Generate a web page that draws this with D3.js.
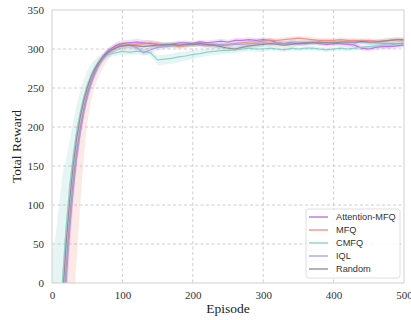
<!DOCTYPE html>
<html><head><meta charset="utf-8">
<script src="https://cdn.jsdelivr.net/npm/d3@7"></script>
<style>body{margin:0;background:#fff}svg{display:block}</style>
</head><body><svg id="c" width="411" height="320"></svg>
<script>
const episodes = [0,5,10,15,20,25,30,35,40,45,50,55,60,65,70,75,80,85,90,95,100,
 110,120,130,140,150,160,170,180,190,200,210,220,230,240,250,260,270,280,290,300,
 310,320,330,340,350,360,370,380,390,400,410,420,430,440,450,460,470,480,490,500];

const attnMean = [-440,-280,-155,-60,15,78,128,168,198,222,242,257,269,279,287,293,298,301,304,306,307,
 308,309,308,307,306,305,306,308,308,307,309,308,309,310,309,311,311,312,311,312,
 311,308,307,308,307,307,308,307,306,307,307,306,305,301,300,302,303,303,304,305];
const attnHi = [60,55,50,45,40,30,22,16,12,10,8,7,6,5,5,4,4,4,4,4,4,
 4,4,4,4,4,3,3,3,3,3,3,3,3,3,3,3,3,3,3,3,3,3,3,3,3,3,3,3,3,3,3,3,3,3,3,3,3,3,3,3];
const attnLo = [60,55,50,45,40,30,22,16,12,10,8,7,6,5,5,4,4,4,4,4,4,
 4,4,4,4,4,3,3,3,3,3,3,3,3,3,3,3,3,3,3,3,3,3,3,3,3,3,3,3,3,3,3,3,3,3,3,3,3,3,3,3];

const mfqMean = [-455,-295,-165,-68,8,72,122,162,194,219,239,255,267,277,285,291,296,299,302,304,305,
 305,306,307,308,306,304,305,303,304,306,307,306,305,304,306,307,308,309,309,310,
 311,311,312,313,314,313,312,311,311,311,312,311,311,310,311,310,310,311,312,311];
const mfqHi = [40,35,30,28,25,20,16,12,10,8,7,6,5,5,4,4,4,4,4,4,4,
 4,4,4,4,4,3,3,3,3,3,3,3,3,3,3,3,3,3,3,3,3,3,3,3,3,3,3,3,3,3,3,3,3,3,3,3,3,3,3,3];
const mfqLo = [300,280,250,220,190,165,162,132,94,59,34,23,17,15,13,11,9,7,6,5,4,
 4,4,4,4,4,3,3,3,3,3,3,3,3,3,3,3,3,3,3,3,3,3,3,3,3,3,3,3,3,3,3,3,3,3,3,3,3,3,3,3];

const cmfqMean = [-330,-200,-90,5,70,122,162,194,218,238,253,265,275,282,287,291,293,294,295,296,297,
 296,297,297,295,286,287,288,290,291,293,294,296,297,298,298,299,300,301,300,300,
 301,300,299,301,300,301,301,300,299,300,301,300,301,302,303,304,305,305,307,308];
const cmfqHi = [370,260,190,135,90,60,45,35,28,22,19,15,11,8,6,5,4,4,4,4,4,
 4,4,4,4,6,6,6,6,6,6,5,5,5,5,4,4,4,4,4,4,3,3,3,3,3,3,3,3,3,3,3,3,3,3,3,3,3,3,3,3];
const cmfqLo = [40,40,40,40,35,30,25,20,16,12,10,8,7,6,5,5,4,4,4,4,4,
 4,4,4,4,7,7,7,7,6,6,5,5,5,5,4,4,4,4,4,4,3,3,3,3,3,3,3,3,3,3,3,3,3,3,3,3,3,3,3,3];

const iqlMean = [-460,-300,-170,-72,5,68,120,160,192,218,238,254,266,276,284,290,295,298,301,303,304,
 305,302,295,299,302,303,304,305,306,306,305,304,305,306,305,306,306,307,307,308,
 307,308,307,309,309,308,309,308,309,309,308,309,308,309,308,308,307,307,307,307];
const iqlHi = [60,55,50,45,40,30,22,16,12,10,8,7,6,5,5,4,4,4,4,4,4,
 4,4,4,4,4,3,3,3,3,3,3,3,3,3,3,3,3,3,3,3,3,3,3,3,3,3,3,3,3,3,3,3,3,3,3,3,3,3,3,3];
const iqlLo = [60,55,50,45,40,30,22,16,12,10,8,7,6,5,5,4,4,4,4,4,4,
 4,4,4,4,4,3,3,3,3,3,3,3,3,3,3,3,3,3,3,3,3,3,3,3,3,3,3,3,3,3,3,3,3,3,3,3,3,3,3,3];

const randMean = [-380,-230,-115,-20,50,105,150,185,212,233,250,263,273,281,287,292,296,299,301,303,304,
 305,304,303,304,305,306,306,305,306,306,307,306,305,303,301,300,302,304,305,306,
 307,306,305,306,307,308,308,309,308,308,309,309,309,310,309,309,310,311,312,312];
const randHi = [50,45,40,35,30,25,18,14,10,8,7,6,5,5,4,4,4,4,4,4,4,
 4,4,4,4,4,3,3,3,3,3,3,3,3,3,3,3,3,3,3,3,3,3,3,3,3,3,3,3,3,3,3,3,3,3,3,3,3,3,3,3];
const randLo = [50,45,40,35,30,25,18,14,10,8,7,6,5,5,4,4,4,4,4,4,4,
 4,4,4,4,4,3,3,3,3,3,3,3,3,3,3,3,3,3,3,3,3,3,3,3,3,3,3,3,3,3,3,3,3,3,3,3,3,3,3,3];

const seriesNames = ["Attention-MFQ","MFQ","CMFQ","IQL","Random"];
const seriesColors = ["#b56be3","#f08a7e","#84cfc6","#9ea3e0","#8a8a8a"];
const xTicks = [0,100,200,300,400,500];
const yTicks = [0,50,100,150,200,250,300,350];

const series = [
  {mean: attnMean, hi: attnHi, lo: attnLo},
  {mean: mfqMean, hi: mfqHi, lo: mfqLo},
  {mean: cmfqMean, hi: cmfqHi, lo: cmfqLo},
  {mean: iqlMean, hi: iqlHi, lo: iqlLo},
  {mean: randMean, hi: randHi, lo: randLo}
].map((s, i) => ({...s, name: seriesNames[i], color: seriesColors[i]}));

const svg = d3.select("#c");
const L = 52, R = 404, T = 10, B = 283;
const x = d3.scaleLinear().domain([0, 500]).range([L, R]);
const y = d3.scaleLinear().domain([0, 350]).range([B, T]);

svg.append("defs").append("clipPath").attr("id", "clip")
  .append("rect").attr("x", L).attr("y", T).attr("width", R - L).attr("height", B - T);

// grid
const grid = svg.append("g");
grid.selectAll("line.v").data(xTicks.filter(d => d > 0 && d < 500)).join("line")
  .attr("x1", d => x(d)).attr("x2", d => x(d)).attr("y1", T).attr("y2", B)
  .attr("stroke", "#c8c8c8").attr("stroke-width", 0.9).attr("stroke-dasharray", "3,2.5");
grid.selectAll("line.h").data(yTicks.filter(d => d > 0 && d < 350)).join("line")
  .attr("x1", L).attr("x2", R).attr("y1", d => y(d)).attr("y2", d => y(d))
  .attr("stroke", "#c8c8c8").attr("stroke-width", 0.9).attr("stroke-dasharray", "3,2.5");

const plot = svg.append("g").attr("clip-path", "url(#clip)");
const line = d3.line().x((d, i) => x(episodes[i])).y(d => y(d));

series.forEach(s => {
  plot.append("path")
    .attr("d", d3.area().x((d, i) => x(episodes[i]))
      .y0((d, i) => y(d - s.lo[i])).y1((d, i) => y(d + s.hi[i]))(s.mean))
    .attr("fill", s.color).attr("fill-opacity", 0.2).attr("stroke", "none");
});
series.forEach(s => {
  plot.append("path").attr("d", line(s.mean))
    .attr("fill", "none").attr("stroke", s.color).attr("stroke-width", 1.2)
    .attr("stroke-opacity", 0.9);
});

// frame
svg.append("rect").attr("x", L).attr("y", T).attr("width", R - L).attr("height", B - T)
  .attr("fill", "none").attr("stroke", "#cfcfcf").attr("stroke-width", 1);

// axes
const xAxis = d3.axisBottom(x).tickValues(xTicks).tickSize(0).tickPadding(8);
const gx = svg.append("g").attr("transform", `translate(0,${B})`).call(xAxis);
gx.select(".domain").remove();
gx.selectAll("text").attr("font-family", "'Liberation Serif', 'Times New Roman', serif")
  .attr("font-size", 11).attr("fill", "#333");

const yAxis = d3.axisLeft(y).tickValues(yTicks).tickSize(0).tickPadding(8);
const gy = svg.append("g").attr("transform", `translate(${L},0)`).call(yAxis);
gy.select(".domain").remove();
gy.selectAll("text").attr("font-family", "'Liberation Serif', 'Times New Roman', serif")
  .attr("font-size", 11).attr("fill", "#333");

svg.append("text").attr("x", (L + R) / 2).attr("y", 313).attr("text-anchor", "middle")
  .attr("font-family", "'Liberation Serif', 'Times New Roman', serif").attr("font-size", 13.5)
  .attr("fill", "#222").text("Episode");
svg.append("text").attr("transform", `translate(21,${(T + B) / 2}) rotate(-90)`)
  .attr("text-anchor", "middle")
  .attr("font-family", "'Liberation Serif', 'Times New Roman', serif").attr("font-size", 13.5)
  .attr("fill", "#222").text("Total Reward");

// legend
const lg = svg.append("g");
lg.append("rect").attr("x", 306).attr("y", 209).attr("width", 94).attr("height", 69)
  .attr("rx", 2.5).attr("fill", "#fff").attr("fill-opacity", 0.85)
  .attr("stroke", "#d5d5d5").attr("stroke-width", 0.8);
series.forEach((s, i) => {
  const yy = 217 + i * 13;
  lg.append("line").attr("x1", 309).attr("x2", 328).attr("y1", yy).attr("y2", yy)
    .attr("stroke", s.color).attr("stroke-width", 1.3);
  lg.append("text").attr("x", 336).attr("y", yy + 3.3)
    .attr("font-family", "'Liberation Sans', Arial, sans-serif").attr("font-size", 9.2)
    .attr("fill", "#333").text(s.name);
});
</script>
</body></html>
